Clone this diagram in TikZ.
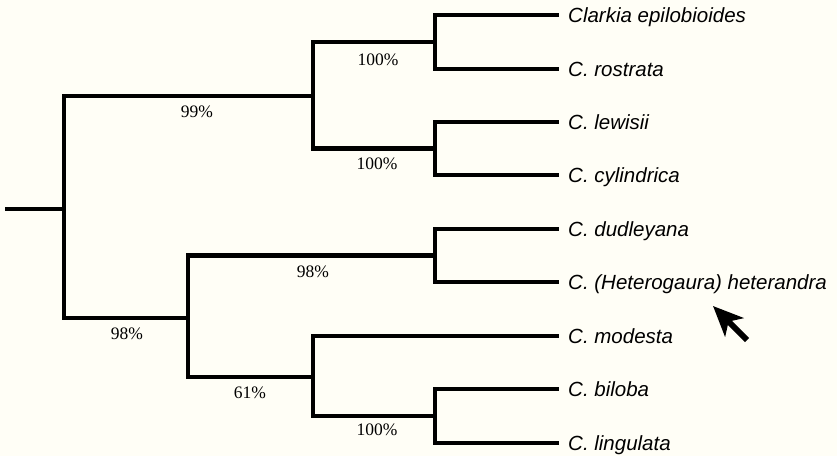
\documentclass[tikz,border=0pt]{standalone}
\usepackage{fontspec}
\setmainfont{Liberation Serif}
\setsansfont{Liberation Sans}
\usetikzlibrary{arrows.meta}
\definecolor{paper}{RGB}{255,254,246}
\tikzset{
  branch/.style={line width=4.2pt, line cap=rect, line join=miter},
  support/.style={font=\fontsize{17.5}{20}\selectfont, inner sep=0pt},
  taxon/.style={font=\sffamily\itshape\fontsize{20.5}{24}\selectfont, inner sep=0pt, anchor=base west, xshift=11pt, yshift=-7.5pt},
}
\begin{document}
\begin{tikzpicture}[x=1pt, y=-1pt]
  \fill[paper] (0,0) rectangle (837,456);
  \useasboundingbox (0,0) rectangle (837,456);

  % internal nodes (position of each vertical bar's midpoint)
  \coordinate (base) at (7,209);
  \coordinate (n1) at (64,209);
  \coordinate (n2) at (313,96);
  \coordinate (n3) at (435,42);
  \coordinate (n4) at (435,148.5);
  \coordinate (n5) at (188,318);
  \coordinate (n6) at (435,255.5);
  \coordinate (n7) at (313,377);
  \coordinate (n8) at (435,416);

  % leaf tips
  \coordinate (l1) at (557,15);
  \coordinate (l2) at (557,69);
  \coordinate (l3) at (557,122);
  \coordinate (l4) at (557,175);
  \coordinate (l5) at (557,229);
  \coordinate (l6) at (557,282);
  \coordinate (l7) at (557,336);
  \coordinate (l8) at (557,389);
  \coordinate (l9) at (557,443);

  % branches
  \draw[branch] (base) -- (n1);
  \draw[branch] (n1) |- (n2);
  \draw[branch] (n1) |- (n5);
  \draw[branch] (n2) |- (n3);
  \draw[branch] (n2) |- (n4);
  \draw[branch] (n3) |- (l1);
  \draw[branch] (n3) |- (l2);
  \draw[branch] (n4) |- (l3);
  \draw[branch] (n4) |- (l4);
  \draw[branch] (n5) |- (n6);
  \draw[branch] (n5) |- (n7);
  \draw[branch] (n6) |- (l5);
  \draw[branch] (n6) |- (l6);
  \draw[branch] (n7) |- (l7);
  \draw[branch] (n7) |- (n8);
  \draw[branch] (n8) |- (l8);
  \draw[branch] (n8) |- (l9);

  % bootstrap support values
  \node[support] (s1) at (378,60) {100\%};
  \node[support] (s2) at (377,164) {100\%};
  \node[support] (s3) at (197,112) {99\%};
  \node[support] (s4) at (313,272) {98\%};
  \node[support] (s5) at (127,334) {98\%};
  \node[support] (s6) at (250,393) {61\%};
  \node[support] (s7) at (377,430) {100\%};

  % taxon names
  \node[taxon] (t1) at (l1) {Clarkia epilobioides};
  \node[taxon] (t2) at (l2) {C. rostrata};
  \node[taxon] (t3) at (l3) {C. lewisii};
  \node[taxon] (t4) at (l4) {C. cylindrica};
  \node[taxon] (t5) at (l5) {C. dudleyana};
  \node[taxon] (t6) at (l6) {C. (Heterogaura) heterandra};
  \node[taxon] (t7) at (l7) {C. modesta};
  \node[taxon] (t8) at (l8) {C. biloba};
  \node[taxon] (t9) at (l9) {C. lingulata};

  % pointer arrow
  \coordinate (atail) at (747,340);
  \coordinate (atip) at (713,306);
  \draw[line width=6pt, -{Stealth[length=30pt, width=26pt, inset=8pt]}] (atail) -- (atip);
\end{tikzpicture}
\end{document}
